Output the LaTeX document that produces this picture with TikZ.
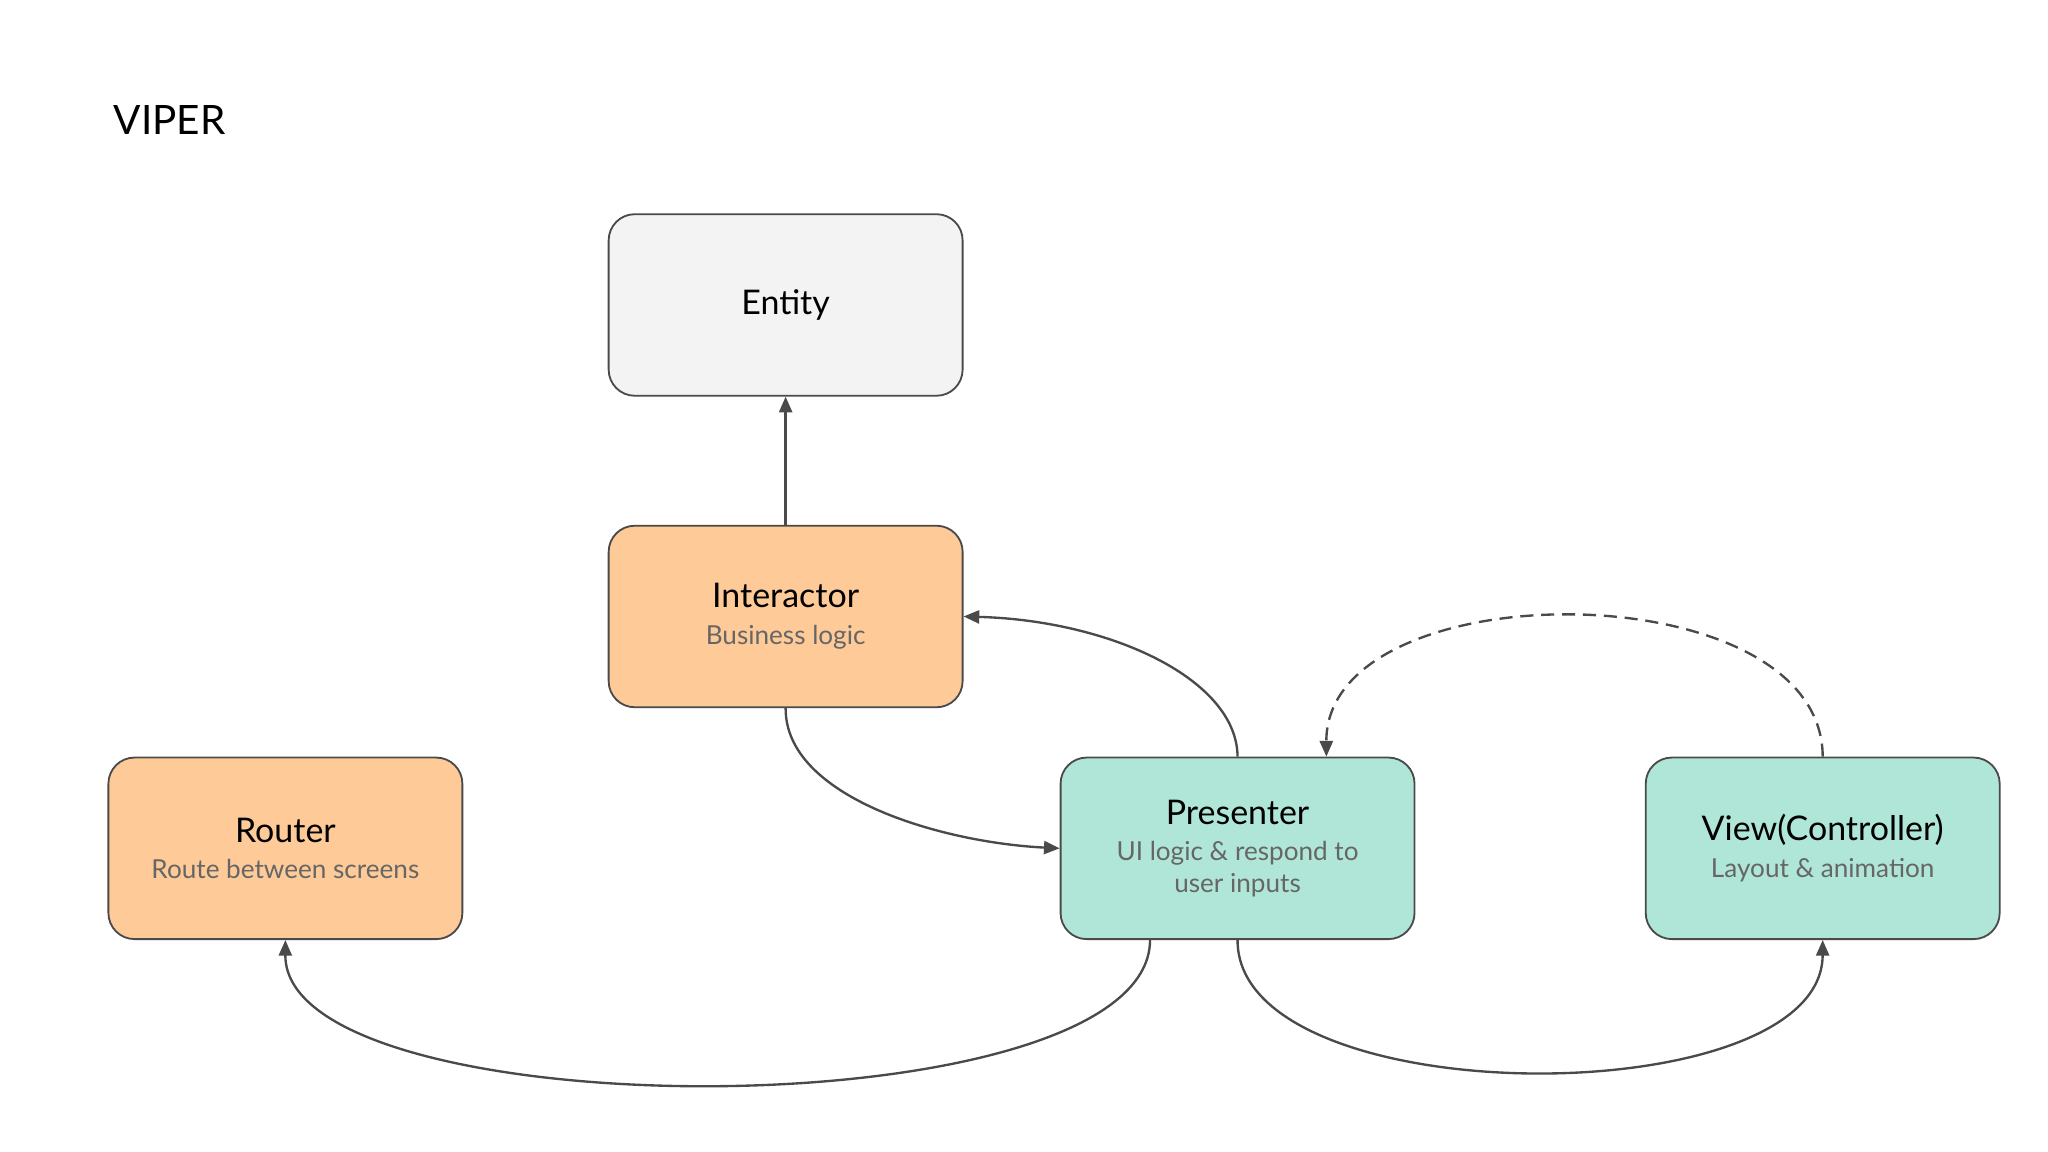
\documentclass[tikz,border=0pt]{standalone}
\usepackage{fontspec}
\setmainfont{Lato}
\usetikzlibrary{arrows.meta}
\definecolor{ent}{HTML}{F3F3F3}
\definecolor{org}{HTML}{FECA98}
\definecolor{tea}{HTML}{B0E6D7}
\definecolor{ln}{HTML}{4A4A4A}
\definecolor{sub}{HTML}{666666}
\begin{document}
\begin{tikzpicture}[x=0.5pt,y=-0.5pt,
  box/.style={draw=ln,line width=0.7pt,rounded corners=10pt,minimum width=135.5pt,minimum height=69.5pt,align=center,font=\fontsize{13}{15}\selectfont},
  sub/.style={font=\fontsize{10}{12}\selectfont,text=sub},
  conn/.style={draw=ln,line width=0.9pt,-{Triangle[length=6pt,width=5pt]}}]
\useasboundingbox[fill=white] (0,0) rectangle (1568,882);
\node[anchor=west,font=\fontsize{15.5}{18}\selectfont] (title) at (80,92) {VIPER};
\node[box,fill=ent] (entity) at (601.5,233.5) {Entity};
\node[box,fill=org] (inter) at (601.5,472) {Interactor\\[-1pt]{\fontsize{10}{12}\selectfont\color{sub}Business logic}};
\node[box,fill=org] (router) at (218.5,649.5) {Router\\[-1pt]{\fontsize{10}{12}\selectfont\color{sub}Route between screens}};
\node[box,fill=tea] (pres) at (947.5,649.5) {Presenter\\[-1pt]{\fontsize{10}{12}\selectfont\color{sub}UI logic \& respond to}\\[-3pt]{\fontsize{10}{12}\selectfont\color{sub}user inputs}};
\node[box,fill=tea] (view) at (1395.5,649.5) {View(Controller)\\[-1pt]{\fontsize{10}{12}\selectfont\color{sub}Layout \& animation}};
\coordinate (pb) at ([xshift=-33.5pt]pres.south);
\coordinate (pt) at ([xshift=34pt]pres.north);
\draw[conn] (inter.north) -- (entity.south);
\draw[conn] (pres.north) .. controls (947,520) and (850,475) .. (inter.east);
\draw[conn] (inter.south) .. controls (601,610) and (720,645) .. (pres.west);
\draw[conn] (pb) .. controls (880,867) and (218,867) .. (router.south);
\draw[conn] (pres.south) .. controls (947,854) and (1395,854) .. (view.south);
\draw[conn,dashed,dash pattern=on 5pt off 3pt] (view.north) .. controls (1395,436) and (1015,436) .. (pt);
\end{tikzpicture}
\end{document}
